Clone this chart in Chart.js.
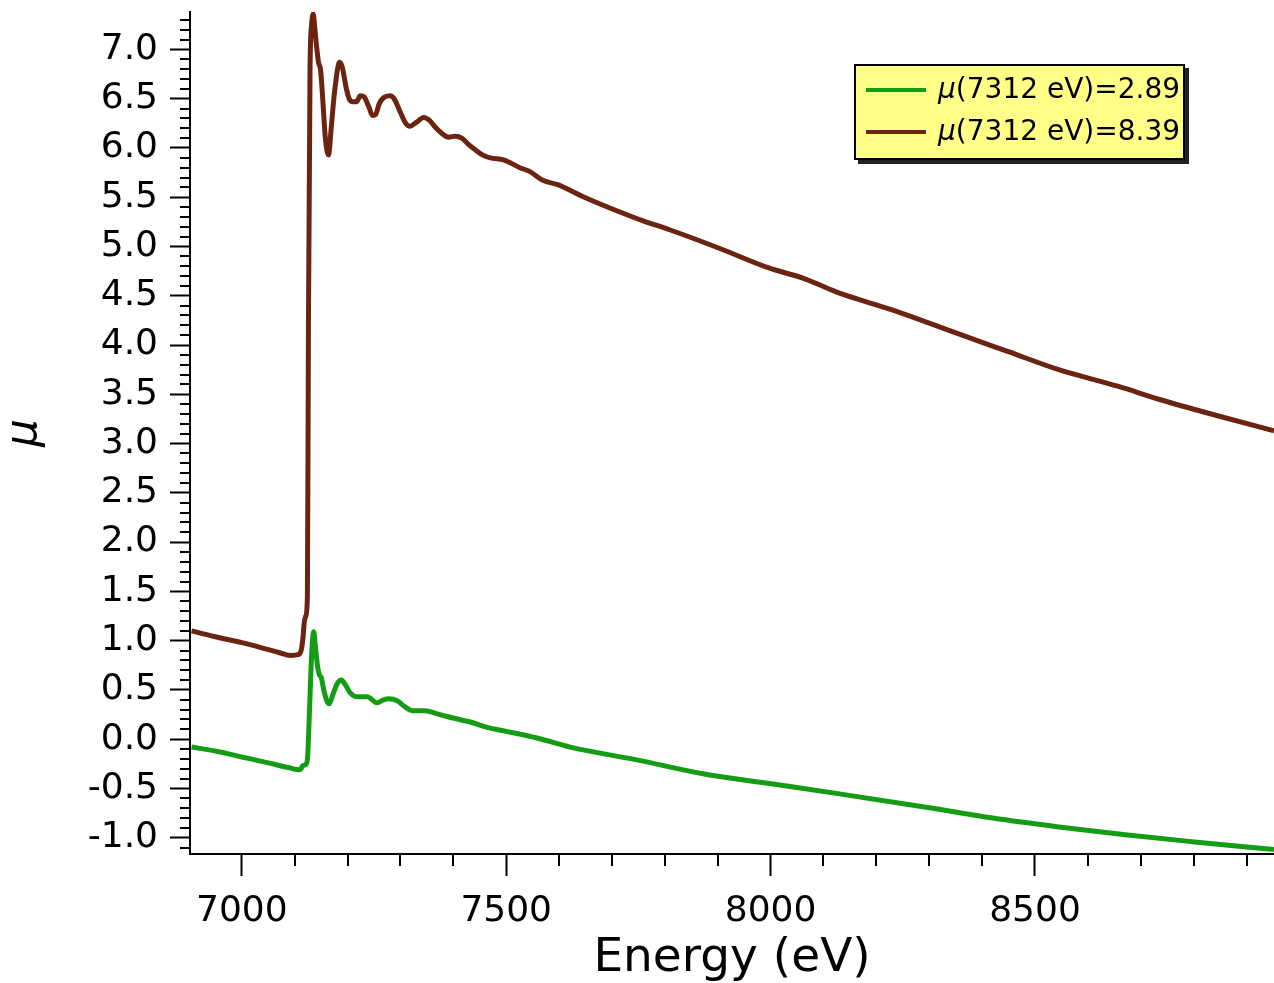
<!DOCTYPE html>
<html>
<head>
<meta charset="utf-8">
<script src="https://cdn.jsdelivr.net/npm/chart.js@4.4.0/dist/chart.umd.min.js"></script>
<style>
    html, body { margin: 0; padding: 0; background: #fff; }
    #wrap { position: relative; width: 1274px; height: 983px; }
    #legend {
        position: absolute;
        left: 854px; top: 64px;
        width: 327px; height: 92px;
        background: #ffff88;
        border: 2px solid #000;
        box-shadow: 4px 4px 0 #222;
        font-family: "DejaVu Sans", sans-serif;
        font-size: 28px;
        color: #000;
    }
    #legend .item { position: absolute; left: 0; height: 40px; line-height: 40px; white-space: nowrap; }
    #legend .swatch { position: absolute; left: 10px; top: 19px; width: 60px; height: 4px; }
    #legend .text { position: absolute; left: 82px; top: 0; }
</style>
</head>
<body>
<div id="wrap">
    <canvas id="muChart"></canvas>
    <div id="legend"></div>
</div>
<script>
// 吸收谱数据 (能量 eV, μ)
const lowEnergy = [6905, 6950, 7000, 7050, 7090, 7108, 7112, 7115, 7120, 7124, 7128, 7132, 7136, 7139, 7143, 7147,
    7150, 7155, 7160, 7165, 7172, 7180, 7188, 7195, 7205, 7218, 7237, 7256, 7268, 7278, 7294, 7308, 7322, 7347,
    7368, 7388, 7419, 7432, 7464, 7500, 7560, 7621, 7747, 7872, 7998, 8124, 8294, 8420, 8545, 8671, 8797, 8952];
const lowMu = [-0.08, -0.12, -0.18, -0.24, -0.29, -0.31, -0.30, -0.27, -0.26, -0.21, 0.30, 0.85, 1.09, 0.95, 0.75, 0.65,
    0.63, 0.50, 0.40, 0.36, 0.45, 0.56, 0.60, 0.56, 0.47, 0.43, 0.43, 0.37, 0.40, 0.41, 0.39, 0.33, 0.29, 0.29,
    0.26, 0.23, 0.19, 0.175, 0.12, 0.08, 0.01, -0.08, -0.21, -0.35, -0.45, -0.55, -0.69, -0.80, -0.89, -0.97, -1.04, -1.12];

const highEnergy = [6905, 6950, 7000, 7036, 7070, 7092, 7108, 7113, 7116, 7118, 7121, 7124, 7126, 7129, 7132, 7135,
    7138, 7141, 7145, 7149, 7153, 7158, 7164, 7169, 7175, 7185, 7190, 7197, 7203, 7210, 7217, 7224, 7231, 7240,
    7247, 7253, 7260, 7268, 7280, 7288, 7300, 7310, 7318, 7330, 7344, 7355, 7366, 7378, 7391, 7404, 7416, 7428,
    7442, 7455, 7470, 7495, 7526, 7545, 7570, 7596, 7652, 7715, 7759, 7809, 7904, 7998, 8061, 8124, 8180, 8250,
    8357, 8451, 8545, 8658, 8734, 8847, 8952];
const highMu = [1.10, 1.04, 0.98, 0.93, 0.88, 0.85, 0.86, 0.92, 1.05, 1.18, 1.25, 1.45, 4.20, 6.80, 7.25, 7.36,
    7.22, 7.05, 6.87, 6.79, 6.50, 6.10, 5.93, 6.20, 6.55, 6.87, 6.82, 6.62, 6.50, 6.47, 6.47, 6.53, 6.52, 6.42,
    6.33, 6.34, 6.45, 6.51, 6.53, 6.50, 6.36, 6.25, 6.22, 6.26, 6.31, 6.28, 6.21, 6.15, 6.11, 6.12, 6.10, 6.04,
    5.98, 5.93, 5.90, 5.88, 5.80, 5.76, 5.67, 5.63, 5.49, 5.35, 5.26, 5.17, 4.98, 4.78, 4.68, 4.54, 4.44, 4.32,
    4.11, 3.93, 3.75, 3.58, 3.45, 3.28, 3.13];

const seriesLabels = ['μ(7312 eV)=2.89', 'μ(7312 eV)=8.39'];
const seriesColors = ['#149c14', '#6a2410'];

// 坐标轴刻度
const xMajorTicks = [7000, 7500, 8000, 8500];
const yMajorTicks = [-1.0, -0.5, 0.0, 0.5, 1.0, 1.5, 2.0, 2.5, 3.0, 3.5, 4.0, 4.5, 5.0, 5.5, 6.0, 6.5, 7.0];

const toPoints = (xs, ys) => xs.map((x, i) => ({ x: x, y: ys[i] }));

// 次刻度线
const minorTicks = {
    id: 'minorTicks',
    afterDraw(chart) {
        const { ctx, chartArea, scales } = chart;
        ctx.save();
        ctx.strokeStyle = '#000';
        ctx.lineWidth = 2;
        ctx.beginPath();
        for (let v = -11; v <= 73; v++) {
            if (v % 5 === 0) continue;
            const py = Math.round(scales.y.getPixelForValue(v / 10));
            ctx.moveTo(chartArea.left - 10, py);
            ctx.lineTo(chartArea.left, py);
        }
        for (let e = 7000; e <= 8900; e += 100) {
            if (e % 500 === 0) continue;
            const px = Math.round(scales.x.getPixelForValue(e));
            ctx.moveTo(px, chartArea.bottom);
            ctx.lineTo(px, chartArea.bottom + 12);
        }
        ctx.stroke();
        ctx.restore();
    }
};

// 图例（HTML）
const htmlLegend = {
    id: 'htmlLegend',
    afterUpdate(chart) {
        const box = document.getElementById('legend');
        box.innerHTML = '';
        chart.data.datasets.forEach((ds, i) => {
            const item = document.createElement('div');
            item.className = 'item';
            item.style.top = (3 + i * 42) + 'px';
            const sw = document.createElement('span');
            sw.className = 'swatch';
            sw.style.background = ds.borderColor;
            const txt = document.createElement('span');
            txt.className = 'text';
            const mu = document.createElement('i');
            mu.textContent = ds.label.charAt(0);
            txt.appendChild(mu);
            txt.appendChild(document.createTextNode(ds.label.slice(1)));
            item.appendChild(sw);
            item.appendChild(txt);
            box.appendChild(item);
        });
    }
};

const tickFont = { family: 'DejaVu Sans', size: 36 };

new Chart(document.getElementById('muChart'), {
    type: 'line',
    data: {
        datasets: [
            {
                label: seriesLabels[0],
                data: toPoints(lowEnergy, lowMu),
                borderColor: seriesColors[0],
                borderWidth: 5,
                pointRadius: 0,
                cubicInterpolationMode: 'monotone',
                fill: false
            },
            {
                label: seriesLabels[1],
                data: toPoints(highEnergy, highMu),
                borderColor: seriesColors[1],
                borderWidth: 5,
                pointRadius: 0,
                cubicInterpolationMode: 'monotone',
                fill: false
            }
        ]
    },
    options: {
        responsive: true,
        maintainAspectRatio: false,
        animation: false,
        layout: { padding: { top: 12, right: 0, left: 0, bottom: 0 } },
        plugins: {
            legend: { display: false },
            tooltip: { enabled: false }
        },
        scales: {
            x: {
                type: 'linear',
                min: 6902,
                max: 8952,
                afterBuildTicks: (scale) => { scale.ticks = xMajorTicks.map(v => ({ value: v })); },
                afterFit: (scale) => {
                    scale.height = 129;
                    scale.paddingLeft = 0;
                    scale.paddingRight = 0;
                },
                border: { display: true, color: '#000', width: 2 },
                grid: { drawOnChartArea: false, drawTicks: true, tickLength: 22, tickWidth: 2, tickColor: '#000' },
                ticks: { color: '#000', font: tickFont, padding: 14, maxRotation: 0, callback: v => String(v) },
                title: {
                    display: true,
                    text: 'Energy (eV)',
                    color: '#000',
                    font: { family: 'DejaVu Sans', size: 47, lineHeight: 1 },
                    padding: { top: 0, bottom: 1 }
                }
            },
            y: {
                type: 'linear',
                min: -1.165,
                max: 7.38,
                afterBuildTicks: (scale) => { scale.ticks = yMajorTicks.map(v => ({ value: v })); },
                afterFit: (scale) => {
                    scale.width = 190;
                    scale.paddingTop = 0;
                    scale.paddingBottom = 0;
                },
                border: { display: true, color: '#000', width: 2 },
                grid: { drawOnChartArea: false, drawTicks: true, tickLength: 20, tickWidth: 2, tickColor: '#000' },
                ticks: { color: '#000', font: tickFont, padding: 12, callback: v => Number(v).toFixed(1) },
                title: {
                    display: true,
                    text: 'μ',
                    color: '#000',
                    font: { family: 'DejaVu Sans', size: 44, style: 'italic', lineHeight: 1 },
                    padding: { top: 3, bottom: 0 }
                }
            }
        }
    },
    plugins: [minorTicks, htmlLegend]
});
</script>
</body>
</html>
